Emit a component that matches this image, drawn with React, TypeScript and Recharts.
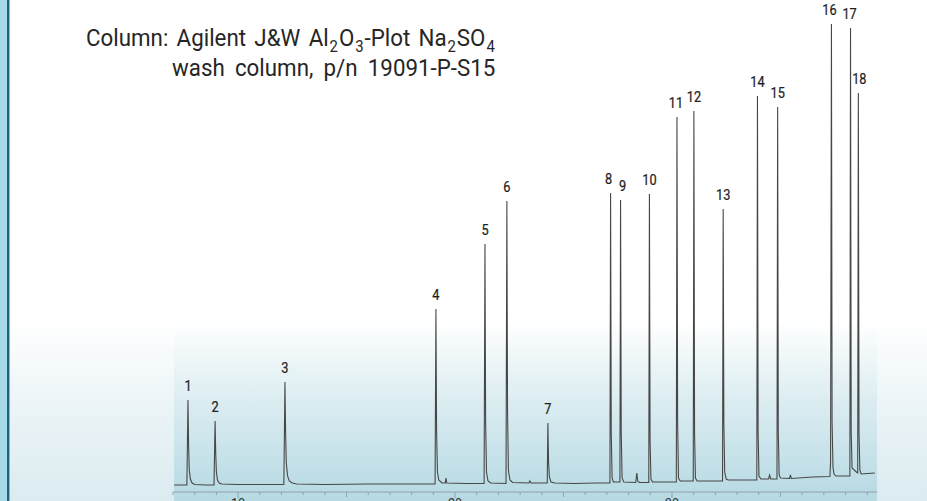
import { ComposedChart, Line, Scatter, XAxis, YAxis } from "recharts"

// retention time (min) and detector signal
const trace = [
  [7.05, 7], [7.64, 7], [7.69, 92], [7.72, 45], [7.75, 22], [7.8, 13], [7.88, 9], [8.0, 7.5],
  [8.5, 7], [8.89, 7], [8.94, 71], [8.97, 38], [9.0, 20], [9.05, 12], [9.13, 9], [9.25, 8],
  [10.0, 7.5], [11.0, 7.5], [12.11, 7.5], [12.16, 110], [12.19, 60], [12.22, 30], [12.28, 16], [12.36, 11], [12.5, 9], [12.7, 8],
  [14.0, 7.5], [16.0, 8], [18.0, 8], [19.08, 8], [19.12, 183], [19.15, 60], [19.19, 20], [19.25, 12], [19.4, 9],
  [19.55, 9], [19.58, 14], [19.62, 9], [20.5, 8.5], [21.34, 8.5], [21.38, 248], [21.41, 70], [21.45, 20], [21.52, 11], [21.65, 9],
  [22.35, 8.5], [22.39, 291], [22.42, 80], [22.46, 22], [22.53, 12], [22.65, 9.5],
  [23.4, 9], [23.45, 11], [23.5, 9], [24.25, 9], [24.28, 69], [24.31, 30], [24.35, 15], [24.42, 10], [24.6, 9],
  [25.5, 8.5], [26.5, 9], [27.14, 9], [27.17, 299], [27.2, 60], [27.24, 14], [27.3, 10],
  [27.6, 10], [27.63, 292], [27.66, 60], [27.7, 14], [27.78, 10],
  [28.33, 9.5], [28.38, 19], [28.42, 11], [28.5, 9.5],
  [28.93, 9.5], [28.96, 298], [28.99, 50], [29.03, 13], [29.1, 10], [29.8, 10],
  [30.2, 10], [30.23, 375], [30.26, 70], [30.3, 14], [30.38, 11],
  [30.98, 11], [31.01, 381], [31.04, 60], [31.08, 14], [31.16, 11],
  [32.33, 11], [32.36, 283], [32.39, 70], [32.43, 20], [32.5, 13], [32.6, 12],
  [33.91, 12], [33.94, 396], [33.97, 60], [34.01, 16], [34.1, 13],
  [34.45, 13], [34.5, 17], [34.55, 13],
  [34.84, 13], [34.87, 385], [34.9, 60], [34.94, 17], [35.0, 14],
  [35.42, 13.5], [35.46, 17], [35.5, 13.5], [36.5, 15], [37.28, 15.5],
  [37.31, 30], [37.35, 468], [37.38, 70], [37.42, 25], [37.47, 18], [37.55, 16],
  [38.2, 16], [38.23, 464], [38.26, 60], [38.3, 24], [38.5, 20],
  [38.56, 19], [38.59, 399], [38.62, 60], [38.66, 22], [38.72, 18], [39.35, 19],
].map(([t, v]) => ({ t, v }))

const peakLabels = ["1", "2", "3", "4", "5", "6", "7", "8", "9", "10", "11", "12", "13", "14", "15", "16", "17", "18"]
const peakTimes = [7.69, 8.94, 12.16, 19.12, 21.38, 22.39, 24.28, 27.17, 27.63, 28.96, 30.23, 31.01, 32.36, 33.94, 34.87, 37.35, 38.23, 38.59]
const peakHeights = [92, 71, 110, 183, 248, 291, 69, 299, 292, 298, 375, 381, 283, 396, 385, 468, 464, 399]
// small horizontal nudges so crowded labels sit as in the original
const labelShift = [0, 0, 0, 0, 0, 0, 0, -2, 2, 0, -1, 0, 0, 0, 0, -2, -1, 1]

const timeTicks = [7, 8, 9, 10, 11, 12, 13, 14, 15, 16, 17, 18, 19, 20, 21, 22, 23, 24, 25, 26, 27, 28, 29, 30, 31, 32, 33, 34, 35, 36, 37, 38, 39]

const peaks = peakLabels.map((label, i) => ({ label, t: peakTimes[i], v: peakHeights[i], dx: labelShift[i] }))

const FONT = "Roboto, sans-serif"

function TimeTick({ x, y, payload }: any) {
  const v = payload.value
  const len = v % 10 === 0 ? 6 : v % 5 === 0 ? 5 : 3
  return (
    <g>
      <line x1={x} x2={x} y1={y} y2={y + len} stroke="#8fa2a8" strokeWidth={1} />
      {v % 10 === 0 && (
        <text transform={`translate(${x},${y + 17}) scale(0.85,1)`} textAnchor="middle" fontSize={15} fill="#333" fontFamily={FONT}>
          {v}
        </text>
      )}
    </g>
  )
}

function PeakLabel({ cx, cy, payload }: any) {
  return (
    <text
      transform={`translate(${cx + payload.dx},${cy - 9}) scale(0.85,1)`}
      textAnchor="middle"
      fontSize={15}
      fill="#1e1e1e"
      stroke="#1e1e1e"
      strokeWidth={0.25}
      fontFamily={FONT}
    >
      {payload.label}
    </text>
  )
}

const titleStyle = {
  position: "absolute" as const,
  fontFamily: FONT,
  fontSize: 24,
  color: "#262626",
  whiteSpace: "nowrap" as const,
  lineHeight: "28px",
  transform: "scaleX(0.93)",
  transformOrigin: "0 0",
}
const subStyle = { fontSize: 16, verticalAlign: -6, lineHeight: 0, padding: "0 1px" }

export default function App() {
  return (
    <div
      style={{
        position: "absolute",
        left: 0,
        top: 0,
        width: 927,
        height: 501,
        overflow: "hidden",
        background: "linear-gradient(to bottom, #ffffff 0px, #ffffff 318px, #e9f3f6 420px, #dbebf0 501px)",
      }}
    >
      <div style={{ position: "absolute", left: 0, top: 0, width: 7, height: 501, background: "#a7dae7" }} />
      <div style={{ position: "absolute", left: 7, top: 0, width: 2, height: 501, background: "#1d6384" }} />
      <div style={{ position: "absolute", left: 9, top: 0, width: 1, height: 501, background: "#7fbcd0" }} />
      <div
        style={{
          position: "absolute",
          left: 174,
          top: 325,
          width: 703,
          height: 176,
          background: "linear-gradient(to bottom, #fdfefe 0px, #deeef2 70px, #b6d9e3 176px)",
        }}
      />
      <div style={{ ...titleStyle, left: 86, top: 24, wordSpacing: 3 }}>
        Column: Agilent J&amp;W Al<sub style={subStyle}>2</sub>O<sub style={subStyle}>3</sub>-Plot Na<sub style={subStyle}>2</sub>SO
        <sub style={subStyle}>4</sub>
      </div>
      <div style={{ ...titleStyle, left: 172, top: 54, wordSpacing: 5 }}>wash column, p/n 19091-P-S15</div>
      <div style={{ position: "absolute", left: 0, top: 0 }}>
        <ComposedChart width={927} height={501} margin={{ top: 0, right: 50, bottom: 0, left: 173 }}>
          <XAxis
            dataKey="t"
            type="number"
            domain={[7, 39.45]}
            ticks={timeTicks}
            interval={0}
            allowDataOverflow
            height={9}
            tickSize={0}
            tickMargin={0}
            tickLine={false}
            axisLine={{ stroke: "#8fa2a8" }}
            tick={<TimeTick />}
          />
          <YAxis type="number" domain={[0, 492]} hide />
          <Line
            data={trace}
            dataKey="v"
            type="linear"
            stroke="#474747"
            strokeWidth={1.1}
            dot={false}
            isAnimationActive={false}
          />
          <Scatter data={peaks} dataKey="v" shape={<PeakLabel />} isAnimationActive={false} />
        </ComposedChart>
      </div>
    </div>
  )
}
